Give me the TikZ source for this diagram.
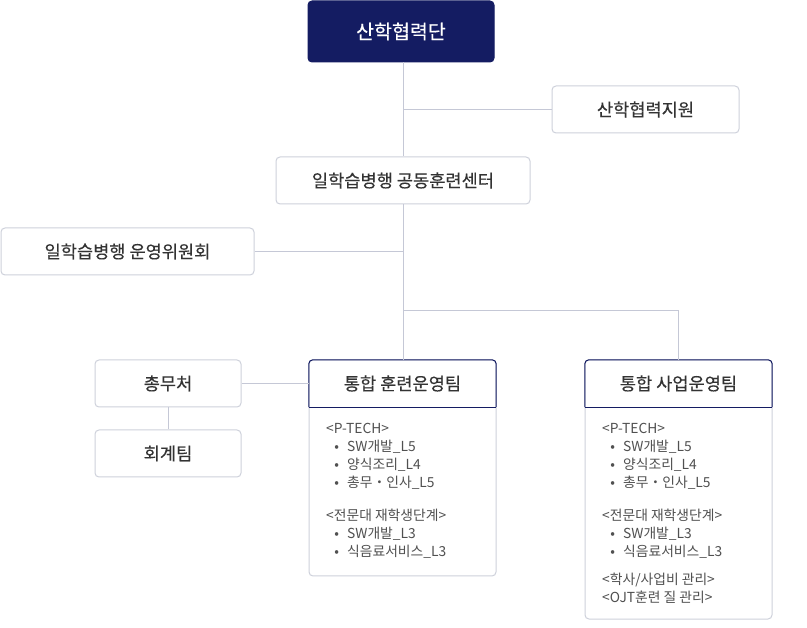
\documentclass[tikz,border=0pt]{standalone}
\usepackage{fontspec}
\setmainfont{Noto Sans CJK KR}
\newfontfamily\krfont{Noto Sans CJK KR}
\newfontfamily\krmed[FakeBold=0.35]{Noto Sans CJK KR}
\definecolor{navy}{RGB}{20,28,98}
\definecolor{boxgray}{RGB}{206,209,219}
\definecolor{linegray}{RGB}{197,200,214}
\definecolor{txt}{RGB}{51,51,51}
\definecolor{bodytxt}{RGB}{80,80,80}
\newcommand{\bul}{\makebox[21pt][c]{•}}
\tikzset{
  box/.style={draw=boxgray, line width=1pt, rounded corners=4pt, fill=white, minimum height=47pt, inner sep=0pt, text=txt, font=\krmed\fontsize{17.6}{20}\selectfont},
  topbox/.style={box, draw=navy, fill=navy, text=white, minimum height=61pt, font=\krmed\fontsize{19.5}{22}\selectfont},
  hdr/.style={draw=navy, line width=1pt},
  hdrtext/.style={minimum height=47pt, minimum width=187pt, inner sep=0pt, text=txt, font=\krmed\fontsize{17.6}{20}\selectfont},
  conn/.style={draw=linegray, line width=1pt},
  listtxt/.style={inner sep=0pt, align=left, text=bodytxt, font=\krfont\fontsize{13.8}{18}\selectfont}
}
\begin{document}
\begin{tikzpicture}[x=1pt,y=-1pt]
\useasboundingbox[fill=white] (0,0) rectangle (807,628);
\node[box, minimum width=254pt] (ctr) at (403,180.5) {일학습병행 공동훈련센터};
\node[topbox, minimum width=186pt] (hq) at (401,31.5) {산학협력단};
\node[box, minimum width=187pt] (sup) at (645.5,109.5) {산학협력지원};
\node[box, minimum width=253pt] (com) at (127.5,251.5) {일학습병행 운영위원회};
\node[box, minimum width=146pt] (gen) at (168,383.5) {총무처};
\node[box, minimum width=146pt] (acc) at (168,453.5) {회계팀};
% team boxes
\draw[draw=boxgray, line width=1pt, rounded corners=4pt] (309,360) rectangle (496,576);
\draw[draw=boxgray, line width=1pt, rounded corners=4pt] (585,360) rectangle (772,619);
\node[hdrtext] (tr) at (402.5,383.5) {통합 훈련운영팀};
\node[hdrtext] (br) at (678.5,383.5) {통합 사업운영팀};
\draw[hdr, rounded corners=4pt] (tr.south west) -- (tr.north west) -- (tr.north east) -- (tr.south east);
\draw[hdr] (tr.south west) -- (tr.south east);
\draw[hdr, rounded corners=4pt] (br.south west) -- (br.north west) -- (br.north east) -- (br.south east);
\draw[hdr] (br.south west) -- (br.south east);
% connectors
\coordinate (j3) at (403,311);
\draw[conn] (ctr.north |- hq.south) -- (ctr.north);
\draw[conn] (ctr.north |- sup.west) -- (sup.west);
\draw[conn] (ctr.south) -- (ctr.south |- tr.north);
\draw[conn] (com.east) -- (com.east -| ctr.south);
\draw[conn] (j3) -- (j3 -| br.north) -- (br.north);
\draw[conn] (gen.east) -- (tr.west);
\draw[conn] (gen.south) -- (acc.north);
% lists
\node[listtxt, anchor=north west] (trl) at (326,423) {%
<P-TECH>\\
\bul SW개발\_L5\\
\bul 양식조리\_L4\\
\bul 총무・인사\_L5\\[15pt]
<전문대 재학생단계>\\
\bul SW개발\_L3\\
\bul 식음료서비스\_L3};
\node[listtxt, anchor=north west] (brl) at (602,423) {%
<P-TECH>\\
\bul SW개발\_L5\\
\bul 양식조리\_L4\\
\bul 총무・인사\_L5\\[15pt]
<전문대 재학생단계>\\
\bul SW개발\_L3\\
\bul 식음료서비스\_L3\\[10pt]
<학사/사업비 관리>\\
<OJT훈련 질 관리>};
\end{tikzpicture}
\end{document}
